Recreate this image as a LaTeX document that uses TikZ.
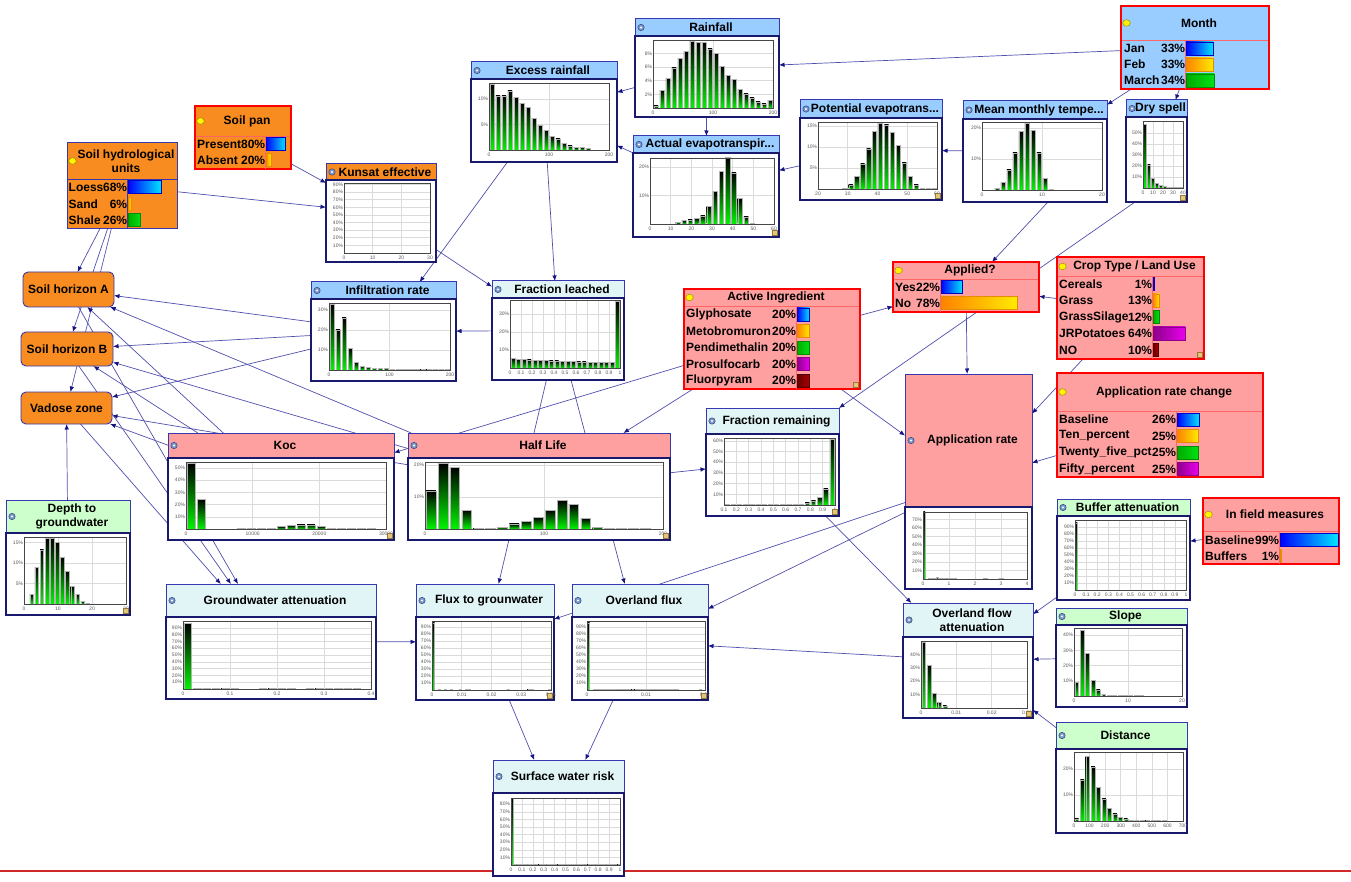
\documentclass[tikz,border=0pt]{standalone}
\usepackage{fontspec}
\setmainfont{Liberation Sans}
\usetikzlibrary{arrows.meta,fit}
\pgfdeclarelayer{bg}
\pgfsetlayers{bg,main}
\definecolor{lblue}{RGB}{153,204,255}
\definecolor{orng}{RGB}{248,140,32}
\definecolor{pnk}{RGB}{255,160,160}
\definecolor{lcyan}{RGB}{226,245,246}
\definecolor{lgreen}{RGB}{204,255,204}
\definecolor{boxc}{RGB}{55,55,175}
\definecolor{bodyc}{RGB}{25,25,110}
\definecolor{edgec}{RGB}{80,80,175}
\definecolor{arrowc}{RGB}{20,20,130}
\definecolor{redb}{RGB}{255,0,0}
\definecolor{labc}{RGB}{90,90,90}
\definecolor{bargreen}{RGB}{0,245,0}
\definecolor{iconc}{RGB}{120,150,200}
\definecolor{icond}{RGB}{50,70,130}
\definecolor{gripc}{RGB}{225,200,120}
\definecolor{gripd}{RGB}{150,120,60}
\definecolor{redline}{RGB}{210,40,40}
\definecolor{bl1}{RGB}{0,0,255}\definecolor{br1}{RGB}{0,230,255}\definecolor{bd1}{RGB}{0,0,200}
\definecolor{bl2}{RGB}{255,130,0}\definecolor{br2}{RGB}{255,235,0}\definecolor{bd2}{RGB}{230,140,0}
\definecolor{bl3}{RGB}{0,170,0}\definecolor{br3}{RGB}{0,225,20}\definecolor{bd3}{RGB}{0,140,0}
\definecolor{bl4}{RGB}{140,0,140}\definecolor{br4}{RGB}{235,0,235}\definecolor{bd4}{RGB}{140,0,140}
\definecolor{bl5}{RGB}{100,0,0}\definecolor{br5}{RGB}{170,0,0}\definecolor{bd5}{RGB}{80,0,0}
\tikzset{
 ttl/.style={font=\fontsize{12}{13.5}\selectfont\bfseries,inner sep=0,align=center},
 stl/.style={font=\fontsize{12}{13}\selectfont\bfseries,inner sep=0},
 ylab/.style={font=\fontsize{5}{5}\selectfont,text=labc,anchor=east,inner sep=0},
 xlab/.style={font=\fontsize{5}{5}\selectfont,text=labc,inner sep=0},
 gridc/.style={draw=gray!28,line width=0.6},
 frame/.style={draw=gray!55!black,line width=0.9},
 barsh/.style={top color=black,bottom color=bargreen,draw=gray!60,line width=0.3},
 titleb/.style={draw=boxc,line width=1},
 bodyb/.style={draw=bodyc,line width=1.2},
 edge/.style={draw=edgec,line width=0.7,-{Latex[length=5.5pt,width=4.5pt,color=arrowc]}},
 rb/.style={draw=redb,line width=1.8},
 rbsep/.style={draw=redb!60!white,line width=0.8},
 nb/.style={draw=boxc,line width=1},
 nbsep/.style={draw=boxc,line width=0.8},
}
\newcommand\bars[6]{%
 \pgfmathsetmacro\pitch{(#2-#1)/#5}%
 \pgfmathsetmacro\bgap{min(2.2,0.3*\pitch)}%
 \foreach \h [count=\i from 0] in {#6}{%
   \ifdim\h pt>0pt
   \pgfmathsetmacro\bh{max(\h*#4,1.2)}%
   \shadedraw[barsh] ({#1+\i*\pitch+\bgap/2},#3) rectangle ({#1+(\i+1)*\pitch-\bgap/2},{#3-\bh});
   \fi}}
\newcommand\chart[9]{%
 \fill[white] (#1,#2) rectangle (#3,#4);
 \foreach \v in {#6}{\draw[gridc] (#1,{#4-\v*#5}) -- (#3,{#4-\v*#5});
   \node[ylab] at (#1-0.8,{#4-\v*#5}) {\v\%};}
 \foreach \f/\l in {#7}{\draw[gridc] ({#1+\f*(#3-#1)},#2) -- ({#1+\f*(#3-#1)},#4);
   \node[xlab] at ({#1+\f*(#3-#1)},#4+4.5) {\l};}
 \bars{#1}{#3}{#4}{#5}{#8}{#9}
 \draw[frame] (#1,#2) rectangle (#3,#4);}
\newcommand\cbox[8]{%
 \fill[white] (#2,#6) rectangle (#4,#5);
 \fill[#7] (#2,#3) rectangle (#4,#6);
 \draw[titleb] (#2,#3) rectangle (#4,#6);
 \draw[bodyb] (#2,#6) rectangle (#4,#5);
 \node[fit={(#2,#3)(#4,#5)},inner sep=0,outer sep=0] (#1) {};
 \filldraw[fill=iconc,draw=icond,line width=0.5] ({#2+6},{(#3+#6)/2}) circle (3.2);
 \fill[white] ({#2+6},{(#3+#6)/2}) circle (1.1);
 \node[ttl] at ({(#2+#4)/2+4},{(#3+#6)/2}) {#8};}
\newcommand\stnode[9]{%
 \fill[#7] (#2,#3) rectangle (#4,#5);
 \draw[#8sep] (#2,#6) -- (#4,#6);
 \node[fit={(#2,#3)(#4,#5)},inner sep=0,outer sep=0,#8] (#1) {};
 \filldraw[fill=yellow,draw=olive,line width=0.4] ({#2+5.5},{(#3+#6)/2}) ellipse (3.8 and 3.3);
 \node[ttl] at ({(#2+#4)/2+4},{(#3+#6)/2}) {#9};}
\newcommand\strow[7]{%
 \node[stl,anchor=west] at (#1,#4) {#5};
 \node[stl,anchor=east] at (#2+0.3,#4) {#6\%};
 \ifdim#6pt>0pt
 \pgfmathsetmacro\barlen{max(#6/100*(#3-#2-1.5),0.8)}%
 \shadedraw[left color=bl#7,right color=br#7,draw=bd#7,line width=0.5] (#2+1,#4-6.5) rectangle ({#2+1+\barlen},#4+6.5);
 \fi}
\newcommand\hnode[6]{%
 \node[fit={(#2,#3)(#4,#5)},inner sep=0,outer sep=0,fill=orng,draw=boxc,line width=0.9,rounded corners=5] (#1) {};
 \node[ttl] at ({(#2+#4)/2},{(#3+#5)/2}) {#6};}
\newcommand\grip[2]{\filldraw[fill=gripc,draw=gripd,line width=0.4] (#1-6.5,#2-6.5) rectangle (#1-1.5,#2-1.5);}
\begin{document}
\begin{tikzpicture}[x=1pt,y=-1pt]
\useasboundingbox (0,0) rectangle (1351,882);
\begin{pgfonlayer}{bg}
\fill[white] (0,0) rectangle (1351,882);
\draw[draw=redline,line width=1.3] (0,871) -- (1351,871);
\end{pgfonlayer}

% ---------- chart nodes ----------
\cbox{rain}{635}{19}{779}{117}{36}{lblue}{Rainfall}
\chart{653}{40}{773}{108}{6.8}{2,4,6,8}{0/0,0.5/100,1/200}{20}{0.3,2.6,4.4,5.9,7.3,8.3,9.8,9.7,9.7,8.7,8.0,6.1,4.8,4.2,2.7,2.1,1.5,0.9,0.6,1.1}

\cbox{excess}{471}{62}{617}{162}{79}{lblue}{Excess rainfall}
\chart{489}{83}{609}{150}{5.1}{5,10}{0/0,0.5/100,1/200}{20}{12.9,10.6,10.6,11.6,10.3,9.2,8.4,6.2,4.8,3.9,2.7,2.2,1.3,0.8,0.5,0.5,0.3,0,0,0}

\cbox{aet}{633}{136}{779}{237}{153}{lblue}{Actual evapotranspir...}
\chart{650}{158}{774}{224}{2.85}{10,20}{0/0,0.1667/10,0.3333/20,0.5/30,0.6667/40,0.8333/50,1/60}{20}{0,0,0,0,0.6,1.2,1.5,1.9,2.9,6.2,11.5,18.4,23.5,18,8.9,2.5,0.4,0,0,0}
\grip{779}{237}

\cbox{pet}{800}{100}{942}{200}{118}{lblue}{Potential evapotrans...}
\chart{818}{122}{937}{189}{4.2}{5,10,15}{0/20,0.25/30,0.5/40,0.75/50,1/60}{20}{0,0,0,0,0.24,1.0,3.0,6.0,9.6,13.7,15.7,15.3,13.5,10.4,6.2,3.0,1.0,0.2,0.2,0.2}
\grip{942}{200}

\cbox{mmt}{963}{101}{1107}{202}{119}{lblue}{Mean monthly tempe...}
\chart{982}{122}{1102}{190}{3.1}{10,20}{0/0,0.5/10,1/20}{20}{0,0,0.5,2.4,6.5,12,19,21.5,19.2,12,3.8,0.4,0,0,0,0,0,0,0,0}

\cbox{dry}{1126}{100}{1187}{202}{117}{lblue}{Dry spell}
\chart{1143}{121}{1183}{188}{1.1}{10,20,30,40,50}{0/0,0.25/10,0.5/20,0.75/30,1/40}{10}{58,21,9,4,2.5,1.5,1,0.5,0.5,0.5}
\grip{1187}{202}

\cbox{kunsat}{326}{164}{436}{262}{180}{orng}{Kunsat effective}
\chart{344}{183}{430}{253}{0.76}{10,20,30,40,50,60,70,80,90}{0/0,0.3333/10,0.6667/20,1/30}{1}{0}

\cbox{infil}{311}{282}{456}{381}{299}{lblue}{Infiltration rate}
\chart{329}{303}{450}{370}{2.0}{10,20,30}{0/0,0.5/100,1/200}{20}{33,20,26,11,4,2,1.5,1,1,0.8,0.6,0.5,0.5,0.4,0.3,0.3,0.2,0.2,0.1,0.1}

\cbox{fl}{492}{281}{624}{380}{298}{lcyan}{Fraction leached}
\chart{510}{300}{620}{368}{1.8}{10,20,30}{0/0,0.1/0.1,0.2/0.2,0.3/0.3,0.4/0.4,0.5/0.5,0.6/0.6,0.7/0.7,0.8/0.8,0.9/0.9,1/1}{20}{5.5,5,4.8,4.6,4.4,4.2,4.1,4,3.9,3.8,3.7,3.6,3.5,3.4,3.3,3.3,3.2,3.2,3.1,37}

\cbox{fr}{706}{408}{839}{516}{434}{lcyan}{Fraction remaining}
\chart{724}{438}{835}{505}{1.07}{10,20,30,40,50,60}{0/0.1,0.1111/0.2,0.2222/0.3,0.3333/0.4,0.4444/0.5,0.5556/0.6,0.6667/0.7,0.7778/0.8,0.8889/0.9,1/1}{18}{0.5,0.5,0.5,0.5,0.5,0.5,0.5,0.5,0.5,0.5,0.5,0.5,0.5,2,4,7,15,62}
\grip{839}{516}

\cbox{koc}{168}{433}{394}{540}{458}{pnk}{Koc}
\chart{186}{462}{386}{529}{1.22}{10,20,30,40,50}{0/0,0.3333/10000,0.6667/20000,1/30000}{20}{54,24.5,0,0,0,0.5,0.5,0.5,0.5,2,3,3.5,3.5,2,0.5,0.5,0.5,0.5,0.5,0}
\grip{394}{540}

\cbox{hl}{408}{433}{670}{540}{458}{pnk}{Half Life}
\chart{425}{462}{663}{529}{3.2}{10,20}{0/0,0.5/100,1/200}{20}{11.9,20.5,19.3,5.9,0.4,0.4,0.6,1.6,2.5,3.6,5.9,9,7.7,3.3,0.6,0.3,0.3,0.3,0.3,0}
\grip{670}{540}

\cbox{depth}{6}{500}{130}{615}{533}{lgreen}{Depth to\\groundwater}
\chart{24}{537}{126}{604}{4.1}{5,10,15}{0/0,0.3333/10,0.6667/20,1/30}{20}{0,2.3,8.9,13.2,16,16,15,11.4,8,4.3,2.3,0.7,0.2,0,0,0,0,0,0,0}
\grip{130}{615}

\cbox{ga}{166}{584}{376}{699}{617}{lcyan}{Groundwater attenuation}
\chart{183}{621}{371}{689}{0.68}{10,20,30,40,50,60,70,80,90}{0/0,0.25/0.1,0.5/0.2,0.75/0.3,1/0.4}{20}{97,0.4,0.4,0.4,0.4,0.4,0,0,0.4,0.4,0.4,0.4,0,0.4,0.4,0.4,0.4,0.4,0.4,0}

\cbox{flux}{416}{584}{554}{700}{617}{lcyan}{Flux to grounwater}
\chart{432}{621}{551}{690}{0.7}{10,20,30,40,50,60,70,80,90}{0/0,0.25/0.01,0.5/0.02,0.75/0.03,1/0.04}{40}{96,0,0.5,0,0.5,0,0.5,0,0,0.5,0,0.5,0.5,0,0,0,0,0,0,0,0,0,0,0,0,0.5,0,0,0,0,0,0,0.5,0.5,0,0,0,0,0,0.5}
\grip{554}{700}

\cbox{olf}{572}{584}{708}{700}{617}{lcyan}{Overland flux}
\chart{587}{621}{705}{690}{0.7}{10,20,30,40,50,60,70,80,90}{0/0,0.5/0.01,1/0.02}{40}{96,0,1.2,0.4,0.4,0.4,0.4,0.4,0.4,0.4,0.4,0.4,0.4,0.4,0.4,0.4,0.4,0.4,0.4,0.4,0.4,0.4,0.4,0.4,0.4,0.4,0.4,0.4,0.4,0.4,0.4,0,0,0,0,0,0,0,0.4,0}
\grip{708}{700}

\cbox{swr}{493}{760}{624}{876}{793}{lcyan}{Surface water risk}
\chart{511}{798}{620}{865}{0.76}{10,20,30,40,50,60,70,80}{0/0,0.1/0.1,0.2/0.2,0.3/0.3,0.4/0.4,0.5/0.5,0.6/0.6,0.7/0.7,0.8/0.8,0.9/0.9,1/1}{40}{88,1.5,0.4,0.4,0.4,0.4,0.4,0.4,0.4,0.4,0.4,0.4,0.4,0.4,0.4,0.4,0.4,0.4,0.4,0.4,0.4,0.4,0.4,0.4,0.4,0.4,0.4,0.4,0.4,0.4,0.4,0.4,0.4,0.4,0.4,0.4,0.4,0.4,0.4,0.4}

\cbox{apprate}{905}{374}{1032}{589}{507}{pnk}{Application rate}
\chart{923}{512}{1027}{579}{0.85}{10,20,30,40,50,60,70}{0/0,0.25/1,0.5/2,0.75/3,1/4}{40}{79,0,1,1,1,2.2,1.5,0.7,0.7,0.7,0.7,0.7,0.7,0,0,0,0,0,0,0,0,0,0,0.7,0.7,0,0,0,0,0.7,0.7,0,0,0,0,0,0,0,0,0}

\cbox{buffer}{1057}{499}{1190}{600}{516}{lgreen}{Buffer attenuation}
\chart{1075}{520}{1186}{590}{0.7}{10,20,30,40,50,60,70,80,90}{0/0,0.1/0.1,0.2/0.2,0.3/0.3,0.4/0.4,0.5/0.5,0.6/0.6,0.7/0.7,0.8/0.8,0.9/0.9,1/1}{40}{96}

\cbox{ofa}{903}{603}{1033}{718}{637}{lcyan}{Overland flow\\attenuation}
\chart{921}{641}{1027}{708}{1.34}{10,20,30,40}{0/0,0.3333/0.01,0.6667/0.02,1/0.03}{20}{49,32,11,4,1.5}
\grip{1033}{718}

\cbox{slope}{1056}{608}{1187}{707}{625}{lgreen}{Slope}
\chart{1074}{628}{1182}{696}{1.52}{10,20,30,40}{0/0,0.5/10,1/20}{20}{9,43,28,10.5,4,1,0.4,0.4,0.4,0.4,0.4,0.4,0.4}

\cbox{dist}{1056}{722}{1187}{833}{749}{lgreen}{Distance}
\chart{1074}{752}{1183}{821}{2.6}{10,20}{0/0,0.1429/100,0.2857/200,0.4286/300,0.5714/400,0.7143/500,0.8571/600,1/700}{20}{0.8,15.8,25,20.8,13,8.5,5,2.8,1.5,0.8,0.3,0.3,0.3,0.3,0.3,0.3,0.3}

% ---------- state nodes ----------
\stnode{month}{1121}{6}{1269}{89}{40}{lblue}{rb}{Month}
\draw[rbsep] (1185,40) -- (1185,89);
\strow{1124}{1185}{1269}{48.5}{Jan}{33}{1}
\strow{1124}{1185}{1269}{64.5}{Feb}{33}{2}
\strow{1124}{1185}{1269}{80.5}{March}{34}{3}

\stnode{pan}{195}{106}{291}{169}{136}{orng}{rb}{Soil pan}
\draw[rbsep] (265,136) -- (265,169);
\strow{197}{265}{291}{144}{Present}{80}{1}
\strow{197}{265}{291}{160}{Absent}{20}{2}

\stnode{shu}{67}{143}{177}{229}{179}{orng}{nb}{Soil hydrological\\units}
\draw[nbsep] (127,179) -- (127,229);
\strow{68.5}{127}{177}{187}{Loess}{68}{1}
\strow{68.5}{127}{177}{204}{Sand}{6}{2}
\strow{68.5}{127}{177}{220}{Shale}{26}{3}

\stnode{applied}{893}{262}{1039}{312}{279}{pnk}{rb}{Applied?}
\draw[rbsep] (940,279) -- (940,312);
\strow{895}{940}{1039}{287}{Yes}{22}{1}
\strow{895}{940}{1039}{303}{No}{78}{2}

\stnode{crop}{1057}{257}{1204}{359}{276}{pnk}{rb}{Crop Type / Land Use}
\draw[rbsep] (1152,276) -- (1152,359);
\strow{1059}{1152}{1204}{284}{Cereals}{1}{1}
\strow{1059}{1152}{1204}{300.5}{Grass}{13}{2}
\strow{1059}{1152}{1204}{317}{GrassSilage}{12}{3}
\strow{1059}{1152}{1204}{333.5}{JRPotatoes}{64}{4}
\strow{1059}{1152}{1204}{350}{NO}{10}{5}
\grip{1204}{359}

\stnode{ai}{684}{289}{860}{389}{306}{pnk}{rb}{Active Ingredient}
\draw[rbsep] (796,306) -- (796,389);
\strow{686}{796}{860}{314.5}{Glyphosate}{20}{1}
\strow{686}{796}{860}{331}{Metobromuron}{20}{2}
\strow{686}{796}{860}{347.5}{Pendimethalin}{20}{3}
\strow{686}{796}{860}{364}{Prosulfocarb}{20}{4}
\strow{686}{796}{860}{380.5}{Fluorpyram}{20}{5}
\grip{860}{389}

\stnode{arc}{1057}{373}{1263}{477}{411}{pnk}{rb}{Application rate change}
\draw[rbsep] (1176,411) -- (1176,477);
\strow{1059}{1176}{1263}{419.5}{Baseline}{26}{1}
\strow{1059}{1176}{1263}{436}{Ten\_percent}{25}{2}
\strow{1059}{1176}{1263}{452.5}{Twenty\_five\_pct}{25}{3}
\strow{1059}{1176}{1263}{469}{Fifty\_percent}{25}{4}

\stnode{infield}{1203}{498}{1339}{564}{531}{pnk}{rb}{In field measures}
\draw[rbsep] (1279,531) -- (1279,564);
\strow{1205}{1279}{1339}{540}{Baseline}{99}{1}
\strow{1205}{1279}{1339}{556}{Buffers}{1}{2}

% ---------- soil horizons ----------
\hnode{sha}{23}{272}{114}{307}{Soil horizon A}
\hnode{shb}{21}{332}{113}{366}{Soil horizon B}
\hnode{vad}{21}{392}{112}{424}{Vadose zone}

% ---------- connectors ----------
\begin{pgfonlayer}{bg}
\draw[edge] (month) -- (rain);
\draw[edge] (month) -- (mmt);
\draw[edge] (month) -- (dry);
\draw[edge] (rain) -- (excess);
\draw[edge] (rain) -- (aet);
\draw[edge] (aet) -- (excess);
\draw[edge] (pet) -- (aet);
\draw[edge] (mmt) -- (pet);
\draw[edge] ([xshift=13pt]mmt.south) -- ([xshift=26pt]applied.north);
\draw[edge] ([xshift=9pt]dry.south west) -- (fr.north east);
\draw[edge] (crop) -- (applied);
\draw[edge] (crop) -- (apprate);
\draw[edge] (applied) -- (apprate);
\draw[edge] (arc) -- (apprate);
\draw[edge] (ai) -- (applied);
\draw[edge] (ai) -- (apprate);
\draw[edge] (ai) -- (koc);
\draw[edge] (ai) -- (hl);
\draw[edge] (pan) -- (kunsat);
\draw[edge] (shu) -- (kunsat);
\draw[edge] (kunsat) -- (fl);
\draw[edge] (excess) -- (fl);
\draw[edge] (excess) -- (infil);
\draw[edge] (fl) -- (infil);
\draw[edge] (fl) -- (flux);
\draw[edge] (fl) -- (olf);
\draw[edge] (shu) -- (sha);
\draw[edge] (shu) -- (shb);
\draw[edge] (shu) -- (vad);
\draw[edge] (infil) -- (sha);
\draw[edge] (infil) -- (shb);
\draw[edge] (infil) -- (vad);
\draw[edge] (koc) -- (sha);
\draw[edge] (koc) -- (shb);
\draw[edge] (koc) -- (vad);
\draw[edge] (hl) -- (sha);
\draw[edge] (hl) -- (shb);
\draw[edge] (hl) -- (vad);
\draw[edge] (depth) -- (vad);
\draw[edge] (sha) -- (ga);
\draw[edge] (shb) -- (ga);
\draw[edge] (vad) -- (ga);
\draw[edge] (ga) -- (flux);
\draw[edge] (hl) -- (fr);
\draw[edge] (apprate) -- (flux);
\draw[edge] (apprate) -- (olf);
\draw[edge] (ofa) -- (olf);
\draw[edge] (fr) -- (ofa);
\draw[edge] (buffer) -- (ofa);
\draw[edge] (infield) -- (buffer);
\draw[edge] (slope) -- (ofa);
\draw[edge] (dist) -- (ofa);
\draw[edge] (flux) -- (swr);
\draw[edge] (olf) -- (swr);
\end{pgfonlayer}
\end{tikzpicture}
\end{document}
